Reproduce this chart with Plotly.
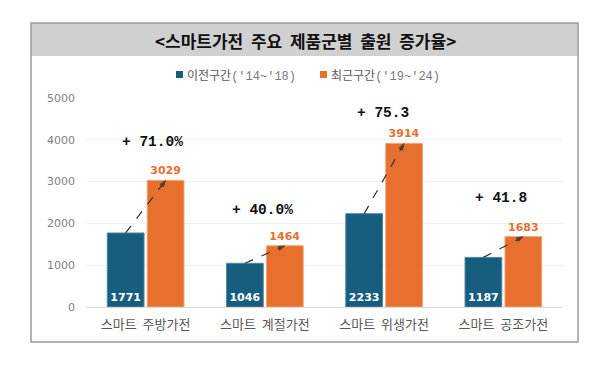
import plotly.graph_objects as go

categories = ["스마트\u00a0 주방가전", "스마트\u00a0 계절가전", "스마트\u00a0 위생가전", "스마트\u00a0 공조가전"]
prev_values = [1771, 1046, 2233, 1187]
recent_values = [3029, 1464, 3914, 1683]
series_names = ["이전구간", "최근구간"]
series_periods = ["('14~'18)", "('19~'24)"]
pct_suffix = ["%", "%", "", ""]
y_ticks = [0, 1000, 2000, 3000, 4000, 5000]

BLUE = "#175D7E"
ORANGE = "#E8702F"
OFF = 8  # default body margin of the html page
W, H = 600 - OFF, 370 - OFF
# plot area in screen pixels (from reference)
PL, PR, PT, PB = 86, 563, 98, 307
ML, MT = PL - OFF, PT - OFF
MR, MB = W - (PR - OFF), H - (PB - OFF)
PW, PH = PR - PL, PB - PT

def px_x(p):
    return (p - PL) / PW

def px_y(p):
    return (PB - p) / PH

xs = list(range(len(categories)))
mono = "Liberation Mono, Courier New, monospace"
kr = "Noto Sans CJK KR, sans-serif"

fig = go.Figure()
fig.add_trace(go.Bar(
    x=xs, y=prev_values, name=series_names[0], showlegend=False,
    marker=dict(color=BLUE, line=dict(color="#4f88a6", width=1)),
    text=[str(v) for v in prev_values], textposition="inside", insidetextanchor="start",
    textangle=0, constraintext="none",
    textfont=dict(color="white", size=11, family="DejaVu Sans", weight="bold"),
    cliponaxis=False,
))
fig.add_trace(go.Bar(
    x=xs, y=recent_values, name=series_names[1], showlegend=False,
    marker=dict(color=ORANGE, line=dict(color="#f2a273", width=1)),
    text=[str(v) for v in recent_values], textposition="outside",
    textangle=0, constraintext="none",
    textfont=dict(color=ORANGE, size=11, family="DejaVu Sans", weight="bold"),
    cliponaxis=False,
))

off = 0.1675
for i in xs:
    fig.add_trace(go.Scatter(
        x=[i - off, i + off], y=[prev_values[i], recent_values[i]],
        mode="lines+markers", showlegend=False, hoverinfo="skip",
        line=dict(color="#333333", width=1.2, dash="dash"),
        marker=dict(symbol="arrow", angleref="previous", size=[0, 7], color="#222222"),
    ))

# growth-rate labels
label_pos = [(0.054, 3947), (-0.02, 2320), (-0.01, 4641), (-0.02, 2608)]
for i in xs:
    pct = (recent_values[i] / prev_values[i] - 1) * 100
    dx, yv = label_pos[i]
    fig.add_annotation(
        x=i + dx, y=yv, text=f"+ {pct:.1f}{pct_suffix[i]}", showarrow=False,
        xanchor="center", yanchor="middle",
        font=dict(family=mono, size=14.5, color="#111111", weight="bold"),
    )

# outer frame and title band
fig.add_shape(type="rect", xref="paper", yref="paper",
              x0=px_x(31), x1=px_x(578), y0=px_y(56), y1=px_y(23),
              fillcolor="#D0D0D0", line=dict(width=0), layer="below")
fig.add_shape(type="rect", xref="paper", yref="paper",
              x0=px_x(31), x1=px_x(578), y0=px_y(342), y1=px_y(23),
              fillcolor="rgba(0,0,0,0)", line=dict(color="#9a9a9a", width=1.5))
fig.add_annotation(
    xref="paper", yref="paper", x=px_x(305), y=px_y(40), showarrow=False,
    xanchor="center", yanchor="middle",
    text="<b>&lt;스마트가전\u00a0 주요\u00a0 제품군별\u00a0 출원\u00a0 증가율&gt;</b>",
    font=dict(family=kr, size=17, color="#111111"),
)

# legend (square marks + text)
legend_sq_x = [176, 320]
legend_colors = [BLUE, ORANGE]
for k in range(2):
    x0 = legend_sq_x[k]
    fig.add_shape(type="rect", xref="paper", yref="paper",
                  x0=px_x(x0), x1=px_x(x0 + 7), y0=px_y(78), y1=px_y(71),
                  fillcolor=legend_colors[k], line=dict(width=0))
    fig.add_annotation(
        xref="paper", yref="paper", x=px_x(x0 + 9), y=px_y(75), xanchor="left",
        yanchor="middle", showarrow=False,
        text=(f"{series_names[k]}"
              f"<span style='font-family:{mono};font-size:12px;color:#7a7a7a'>{series_periods[k]}</span>"),
        font=dict(family=kr, size=12, color="#595959"),
    )

fig.update_layout(
    width=W, height=H,
    margin=dict(l=ML, r=MR, t=MT, b=MB),
    paper_bgcolor="white", plot_bgcolor="white",
    barmode="group", bargap=0.33, bargroupgap=0.08,
    showlegend=False,
    font=dict(family=kr),
)
fig.update_xaxes(
    tickvals=xs, ticktext=categories, range=[-0.5, len(categories) - 0.5],
    showline=True, linecolor="#D9D9D9", linewidth=1, showgrid=False, ticks="",
    tickfont=dict(family=kr, size=13, color="#595959"), ticklabelstandoff=5,
)
fig.update_yaxes(
    range=[0, 5000], tickvals=y_ticks, showgrid=True, gridcolor="#EFEFEF",
    zeroline=False, showline=False, ticks="",
    tickfont=dict(family="DejaVu Sans", size=11, color="#808080"), ticklabelstandoff=10,
)

fig.write_html("out.html")
